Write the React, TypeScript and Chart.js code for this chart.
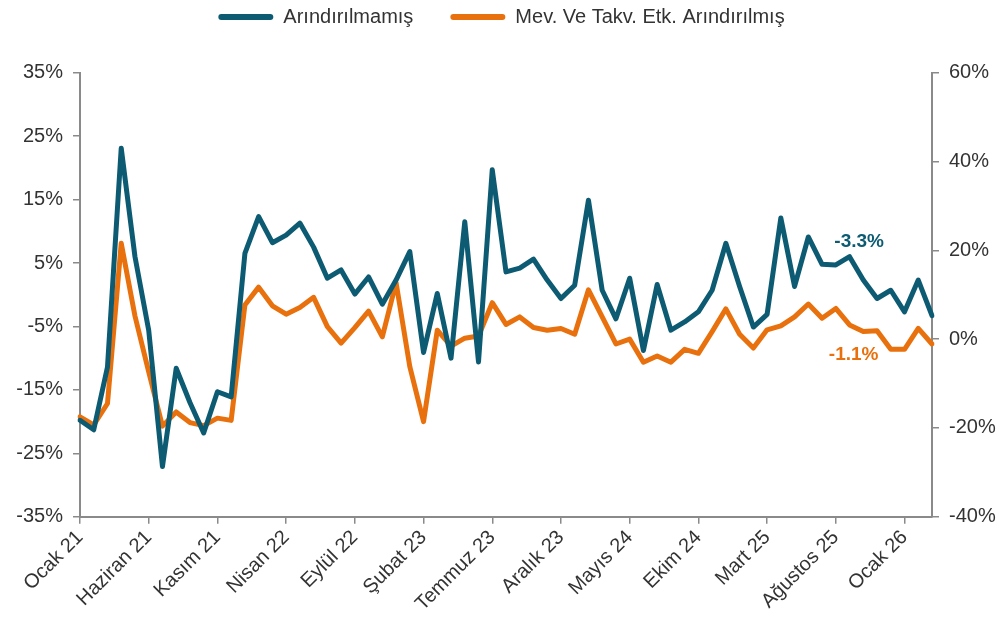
import React, { useEffect, useRef } from "react";
import { Chart, registerables } from "chart.js";

Chart.register(...registerables);

const months: string[] = [
  "Ocak 21", "Şubat 21", "Mart 21", "Nisan 21", "Mayıs 21", "Haziran 21", "Temmuz 21", "Ağustos 21", "Eylül 21", "Ekim 21", "Kasım 21", "Aralık 21",
  "Ocak 22", "Şubat 22", "Mart 22", "Nisan 22", "Mayıs 22", "Haziran 22", "Temmuz 22", "Ağustos 22", "Eylül 22", "Ekim 22", "Kasım 22", "Aralık 22",
  "Ocak 23", "Şubat 23", "Mart 23", "Nisan 23", "Mayıs 23", "Haziran 23", "Temmuz 23", "Ağustos 23", "Eylül 23", "Ekim 23", "Kasım 23", "Aralık 23",
  "Ocak 24", "Şubat 24", "Mart 24", "Nisan 24", "Mayıs 24", "Haziran 24", "Temmuz 24", "Ağustos 24", "Eylül 24", "Ekim 24", "Kasım 24", "Aralık 24",
  "Ocak 25", "Şubat 25", "Mart 25", "Nisan 25", "Mayıs 25", "Haziran 25", "Temmuz 25", "Ağustos 25", "Eylül 25", "Ekim 25", "Kasım 25", "Aralık 25",
  "Ocak 26", "Şubat 26", "Mart 26",
];

// Arındırılmamış (left axis, %)
const unadjusted: number[] = [
  -19.8, -21.3, -11.4, 23.1, 6.0, -5.6, -27.1, -11.6, -17.0, -21.8, -15.3, -16.1,
  6.5, 12.3, 8.2, 9.4, 11.3, 7.5, 2.6, 3.9, 0.1, 2.8, -1.5, 2.3,
  6.8, -9.1, 0.2, -10.0, 11.5, -10.6, 19.7, 3.6, 4.2, 5.6, 2.3, -0.6,
  1.5, 14.9, 0.7, -3.8, 2.6, -8.8, 1.6, -5.6, -4.3, -2.7, 0.7, 8.1,
  1.3, -5.1, -3.1, 12.1, 1.3, 9.1, 4.8, 4.7, 6.0, 2.3, -0.6, 0.7,
  -2.7, 2.3, -3.3,
];

// Mev. Ve Takv. Etk. Arındırılmış (right axis, %)
const adjusted: number[] = [
  -17.5, -19.3, -14.5, 21.6, 5.2, -7.4, -19.6, -16.4, -18.8, -19.5, -17.8, -18.3,
  7.7, 11.7, 7.5, 5.6, 7.1, 9.4, 2.8, -0.9, 2.6, 6.3, 0.5, 12.7,
  -6.2, -18.6, 2.0, -1.6, 0.2, 0.7, 8.2, 3.3, 5.0, 2.6, 2.0, 2.4,
  1.1, 11.1, 5.0, -1.1, 0.0, -5.2, -3.8, -5.2, -2.3, -3.2, 1.7, 6.8,
  1.1, -2.0, 2.1, 3.0, 5.0, 7.9, 4.7, 6.9, 3.2, 1.7, 1.9, -2.3,
  -2.3, 2.4, -1.1,
];

const seriesNames: string[] = ["Arındırılmamış", "Mev. Ve Takv. Etk. Arındırılmış"];

const TEAL = "#0D5B72";
const ORANGE = "#E8710E";
const AXIS = "#8A8A8A";
const TEXT = "#333333";
const FONT = "'Liberation Sans', Arial, sans-serif";
const LEGEND_PADDING = 37;

const endLabels = {
  id: "endLabels",
  afterLayout(chart: any) {
    // keep the legend row near the top edge while the plot starts lower
    if (chart.legend) {
      const h = chart.legend.height;
      chart.legend.top = 7 - LEGEND_PADDING;
      chart.legend.bottom = chart.legend.top + h;
    }
  },
  afterDatasetsDraw(chart: any) {
    const { ctx, scales } = chart;
    const x = scales.x;
    const yl = scales.yLeft;
    const yr = scales.yRight;
    ctx.save();
    ctx.font = `bold 19px ${FONT}`;
    ctx.textAlign = "center";
    ctx.textBaseline = "middle";
    const lastU = unadjusted[unadjusted.length - 1];
    const lastA = adjusted[adjusted.length - 1];
    ctx.fillStyle = TEAL;
    ctx.fillText(`${lastU.toFixed(1)}%`, x.getPixelForValue(56.7), yl.getPixelForValue(8.4));
    ctx.fillStyle = ORANGE;
    ctx.fillText(`${lastA.toFixed(1)}%`, x.getPixelForValue(56.3), yr.getPixelForValue(-3.5));
    ctx.restore();
  },
};

export default function App() {
  const ref = useRef<HTMLCanvasElement>(null);

  useEffect(() => {
    if (!ref.current) return;
    const chart = new Chart(ref.current, {
      type: "line",
      data: {
        labels: months,
        datasets: [
          {
            label: seriesNames[0],
            data: unadjusted,
            yAxisID: "yLeft",
            borderColor: TEAL,
            backgroundColor: TEAL,
            borderWidth: 5,
            pointRadius: 0,
            tension: 0,
            borderJoinStyle: "round",
            borderCapStyle: "round",
          },
          {
            label: seriesNames[1],
            data: adjusted,
            yAxisID: "yRight",
            borderColor: ORANGE,
            backgroundColor: ORANGE,
            borderWidth: 5,
            pointRadius: 0,
            tension: 0,
            borderJoinStyle: "round",
            borderCapStyle: "round",
          },
        ],
      },
      options: {
        responsive: false,
        animation: false,
        layout: { padding: { top: 0, left: 0, right: 0, bottom: 0 } },
        plugins: {
          tooltip: { enabled: false },
          legend: {
            display: true,
            position: "top",
            labels: {
              boxWidth: 55,
              boxHeight: 6,
              padding: LEGEND_PADDING,
              useBorderRadius: true,
              borderRadius: 3,
              color: TEXT,
              font: { family: FONT, size: 20 },
              generateLabels: (c: any) =>
                c.data.datasets.map((d: any, i: number) => ({
                  text: d.label,
                  fillStyle: d.borderColor,
                  strokeStyle: d.borderColor,
                  lineWidth: 0,
                  hidden: false,
                  datasetIndex: i,
                  borderRadius: 3,
                  fontColor: TEXT,
                })),
            },
          },
        },
        scales: {
          x: {
            type: "category",
            offset: false,
            afterBuildTicks: (scale: any) => {
              scale.ticks = scale.ticks.filter((t: any) => t.value % 5 === 0);
            },
            afterFit: (scale: any) => {
              scale.height = 104.3;
            },
            grid: {
              display: true,
              drawOnChartArea: false,
              drawTicks: true,
              tickLength: 7,
              color: AXIS,
              lineWidth: 1.5,
            },
            border: { display: true, color: AXIS, width: 2 },
            ticks: {
              autoSkip: false,
              maxRotation: 45,
              minRotation: 45,
              padding: 2,
              color: TEXT,
              font: { family: FONT, size: 20 },
            },
          },
          yLeft: {
            type: "linear",
            position: "left",
            min: -35,
            max: 35,
            afterFit: (scale: any) => {
              scale.width = 80;
              scale.paddingTop = 72.7;
            },
            grid: {
              display: true,
              drawOnChartArea: false,
              drawTicks: true,
              tickLength: 7,
              color: AXIS,
              lineWidth: 1.5,
            },
            border: { display: true, color: AXIS, width: 2 },
            ticks: {
              stepSize: 10,
              padding: 10,
              color: TEXT,
              font: { family: FONT, size: 20 },
              callback: (v: any) => `${v}%`,
            },
          },
          yRight: {
            type: "linear",
            position: "right",
            min: -40,
            max: 60,
            afterFit: (scale: any) => {
              scale.width = 71;
            },
            grid: {
              display: true,
              drawOnChartArea: false,
              drawTicks: true,
              tickLength: 7,
              color: AXIS,
              lineWidth: 1.5,
            },
            border: { display: true, color: AXIS, width: 2 },
            ticks: {
              stepSize: 20,
              padding: 10,
              color: TEXT,
              font: { family: FONT, size: 20 },
              callback: (v: any) => `${v}%`,
            },
          },
        },
      },
      plugins: [endLabels],
    });
    return () => chart.destroy();
  }, []);

  return (
    <div style={{ position: "fixed", left: 0, top: 0, width: 1003, height: 621, background: "#fff" }}>
      <canvas ref={ref} width={1003} height={621} style={{ display: "block" }} />
    </div>
  );
}
